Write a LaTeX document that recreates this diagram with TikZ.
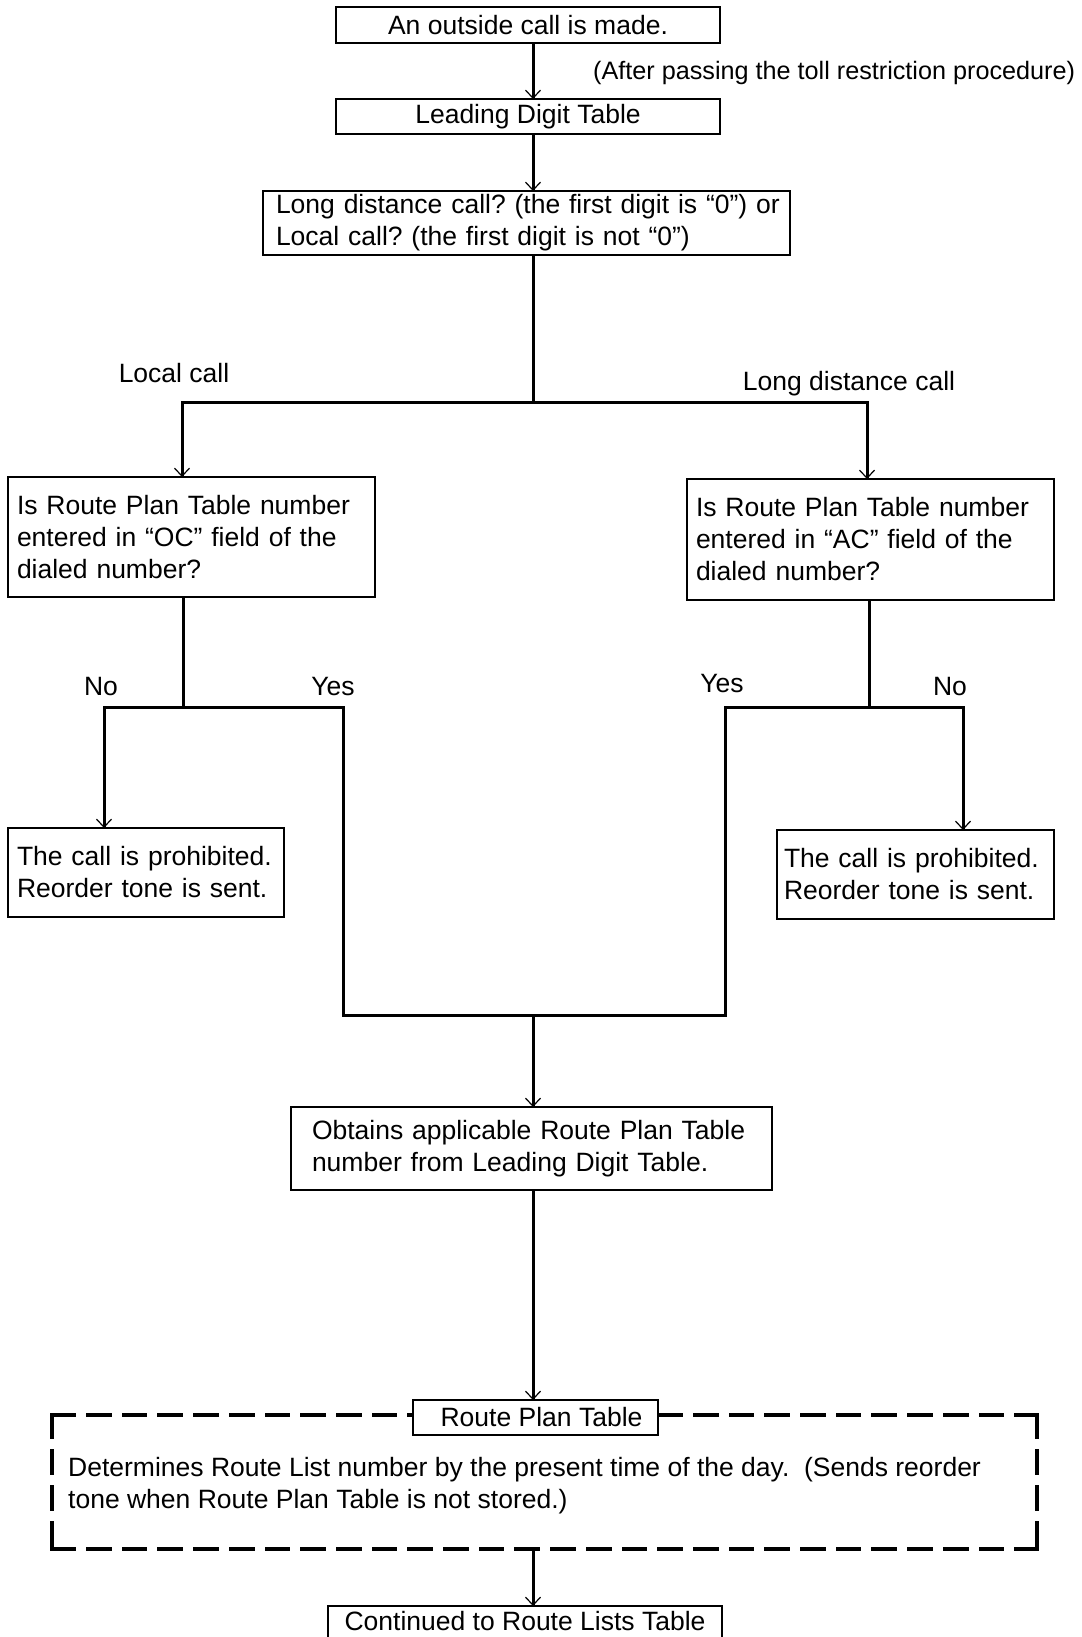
\documentclass[tikz,border=0pt]{standalone}
\usepackage{fontspec}
\setmainfont{Liberation Sans}
\usetikzlibrary{arrows.meta}
\frenchspacing
\begin{document}
\begin{tikzpicture}[x=1pt,y=-1pt,
  every node/.style={font=\fontsize{26.5}{32}\selectfont},
  box/.style={draw, line width=1.6pt, fill=white, inner sep=0pt, outer sep=0pt},
  cbox/.style={box, align=center},
  lbox/.style={box, align=left},
  link/.style={line width=3pt, line join=miter},
  arr/.style={link, -{Straight Barb[length=8pt,width=15pt,line width=1.2pt]}},
  lbl/.style={inner sep=0pt, anchor=base},
  dashside/.style={line width=3.3pt, line cap=rect, dash pattern=on #1 off 13.3pt},
]
\useasboundingbox (0,0) rectangle (1081,1637);
\clip (0,0) rectangle (1081,1637);
\fill[white] (0,0) rectangle (1081,1637);

% guide coordinates for the connectors
\coordinate (axis) at (533,0);
\coordinate (split) at (533,402);
\coordinate (locT) at (182,402);
\coordinate (ldT) at (867,402);
\coordinate (ocJ) at (183,707);
\coordinate (noL) at (104,707);
\coordinate (yesL) at (343,707);
\coordinate (acJ) at (869,707);
\coordinate (yesR) at (725,707);
\coordinate (noR) at (963,707);
\coordinate (mergeL) at (343,1015);
\coordinate (mergeR) at (725,1015);

% boxes
\node[cbox, minimum width=384pt, minimum height=36pt] (call) at (528,25) {An outside call is made.};
\node[cbox, minimum width=384pt, minimum height=35pt] (ldt) at (528,116.5) {Leading Digit Table};
\node[lbox, text width=501pt, inner xsep=13pt, minimum height=64pt] (kind) at (526.5,223)
  {\mbox{Long distance call? (the first digit is “0”) or}\\\mbox{Local call? (the first digit is not “0”)}};
\node[lbox, text width=349pt, inner xsep=9pt, minimum height=120pt] (oc) at (191.5,537)
  {\mbox{Is Route Plan Table number}\\\mbox{entered in “OC” field of the}\\\mbox{dialed number?}};
\node[lbox, text width=349pt, inner xsep=9pt, minimum height=121pt] (ac) at (870.5,539.5)
  {\mbox{Is Route Plan Table number}\\\mbox{entered in “AC” field of the}\\\mbox{dialed number?}};
\node[lbox, text width=258pt, inner xsep=9pt, minimum height=89pt] (proL) at (146,872.5)
  {\mbox{The call is prohibited.}\\\mbox{Reorder tone is sent.}};
\node[lbox, text width=263pt, inner xsep=7pt, minimum height=89pt] (proR) at (915.5,874.5)
  {\mbox{The call is prohibited.}\\\mbox{Reorder tone is sent.}};
\node[lbox, text width=439pt, inner xsep=21pt, minimum height=83pt] (obt) at (531.5,1148.5)
  {\mbox{Obtains applicable Route Plan Table}\\\mbox{number from Leading Digit Table.}};

% dashed frame of the Route Plan Table step
\node[minimum width=985pt, minimum height=134pt, inner sep=0pt, outer sep=0pt] (plan) at (544.5,1482) {};
\draw[dashside=22.4pt] (plan.north west) -- (plan.north east);
\draw[dashside=22.4pt] (plan.south west) -- (plan.south east);
\draw[dashside=22.7pt] (plan.north west) -- (plan.south west);
\draw[dashside=22.7pt] (plan.north east) -- (plan.south east);
\node[cbox, minimum width=245pt, minimum height=35pt] (rpt) at (535.5,1417.5) {\hspace*{12pt}Route Plan Table};
\node[inner sep=0pt, anchor=west, align=left] (plantext) at (68,1486)
  {Determines Route List number by the present time of the day.\ \ (Sends reorder\\tone when Route Plan Table is not stored.)};
\node[box, anchor=base, text height=20pt, text depth=40pt, inner ysep=4pt, minimum width=394pt] (cont) at (525,1630)
  {Continued to Route Lists Table};

% labels
\node[lbl, anchor=base west, font=\fontsize{25.2}{30}\selectfont] (tollnote) at (593,80) {(After passing the toll restriction procedure)};
\node[lbl] (loclbl) at (174,382) {Local call};
\node[lbl] (ldlbl) at (849,390) {Long distance call};
\node[lbl] (noLlbl) at (101,695) {No};
\node[lbl] (yesLlbl) at (333,695) {Yes};
\node[lbl] (yesRlbl) at (722,692) {Yes};
\node[lbl] (noRlbl) at (950,695) {No};

% connectors
\draw[arr] (call.south -| axis) -- (ldt.north -| axis);
\draw[arr] (ldt.south -| axis) -- (kind.north -| axis);
\draw[link] (kind.south -| axis) -- (split);
\draw[arr] (split) -- (locT) -- (oc.north -| locT);
\draw[arr] (split) -- (ldT) -- (ac.north -| ldT);
\draw[link] (oc.south -| ocJ) -- (ocJ);
\draw[arr] (ocJ) -- (noL) -- (proL.north -| noL);
\draw[link] (ocJ) -- (yesL) -- (mergeL) -- (mergeR) -- (yesR) -- (acJ);
\draw[link] (ac.south -| acJ) -- (acJ);
\draw[arr] (acJ) -- (noR) -- (proR.north -| noR);
\draw[arr] (mergeL -| axis) -- (obt.north -| axis);
\draw[arr] (obt.south -| axis) -- (rpt.north -| axis);
\draw[arr] (plan.south -| axis) -- (cont.north -| axis);
\end{tikzpicture}
\end{document}
